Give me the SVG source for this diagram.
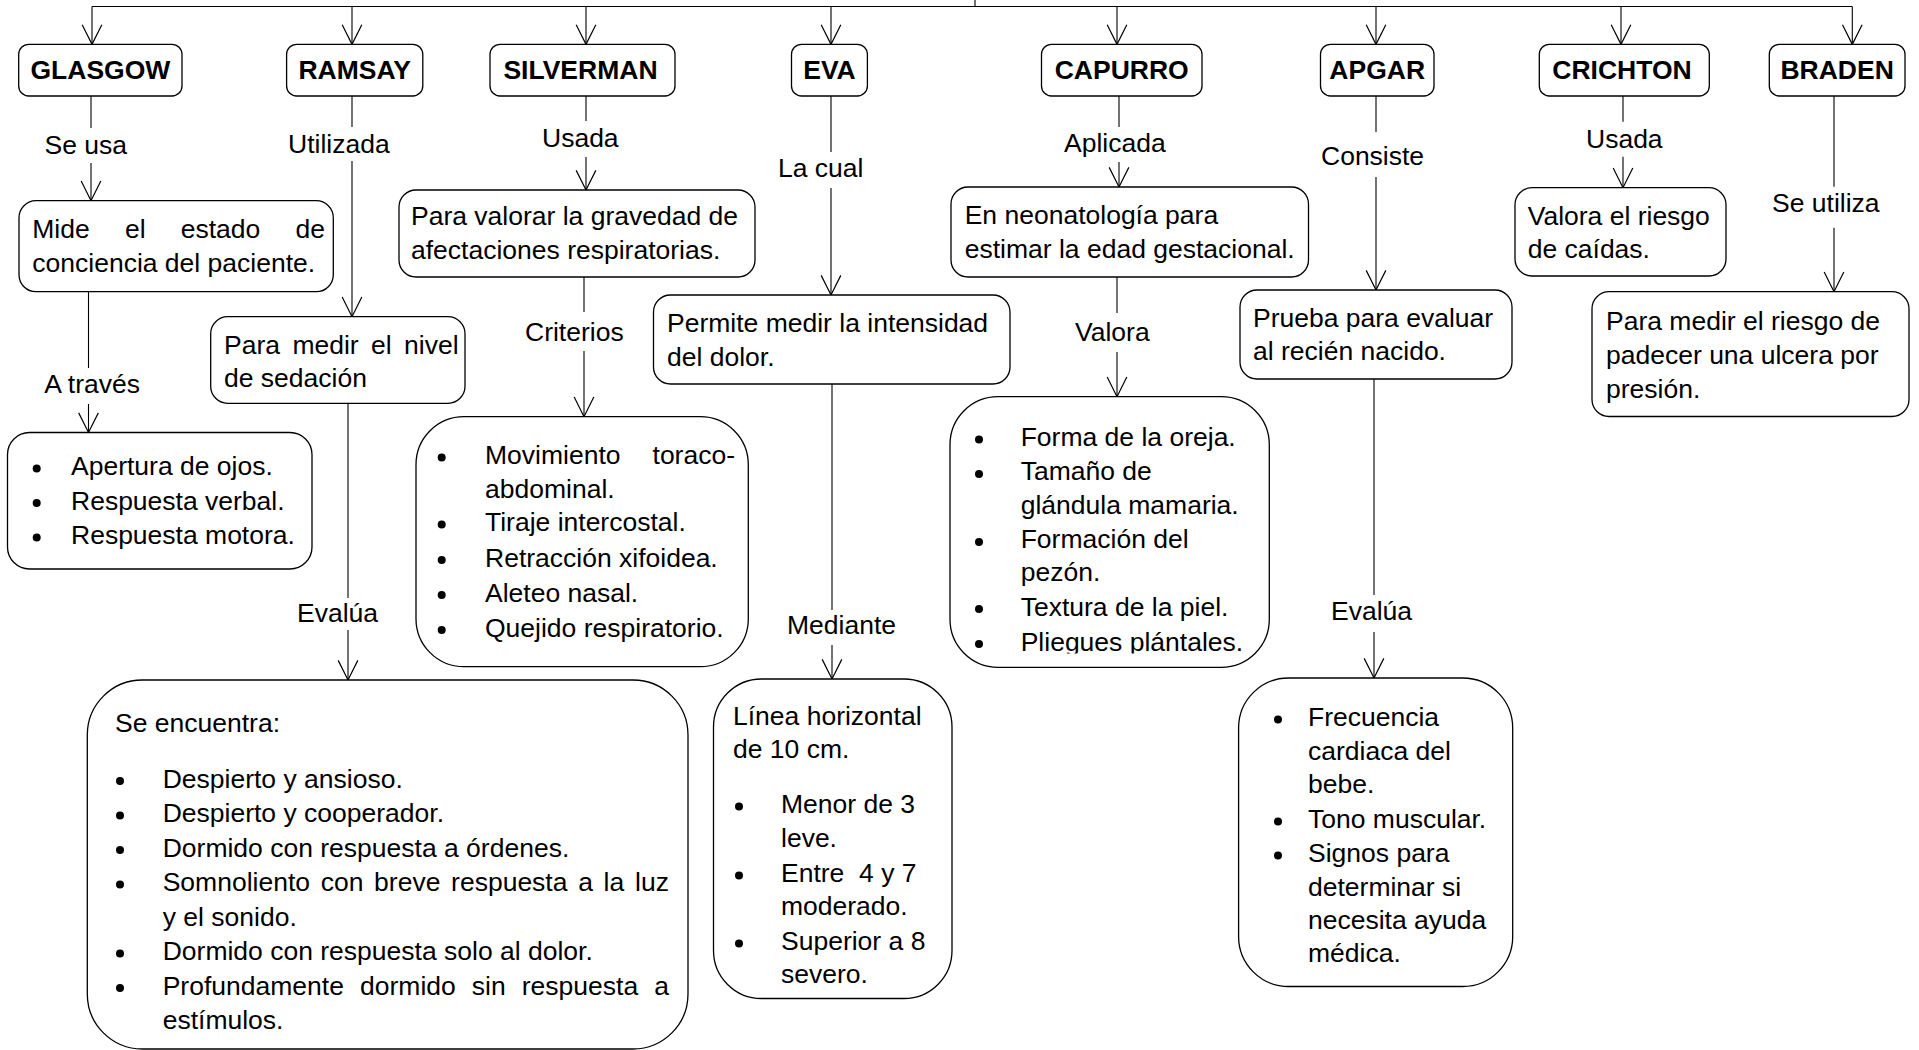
<svg xmlns="http://www.w3.org/2000/svg" width="1919" height="1050" viewBox="0 0 1919 1050">
<defs>
<style>
.b{fill:#fff;stroke:#000;stroke-width:1.3}
.t{font-family:"Liberation Sans",Arial,sans-serif;font-size:26.5px;fill:#000}
.h{font-weight:bold;text-anchor:middle}
.c{stroke:#000;stroke-width:1.1;fill:none}
.d{fill:#000}
</style>
<marker id="ah" markerUnits="userSpaceOnUse" markerWidth="24" markerHeight="24" viewBox="-1 -1 22 22" refX="19" refY="10" orient="auto" overflow="visible">
<path d="M1,1 L19,10 L1,19" fill="none" stroke="#000" stroke-width="1.1"/>
</marker>
<clipPath id="clipPl"><rect x="950" y="620" width="320" height="33.5"/></clipPath>
</defs>
<rect width="1919" height="1050" fill="#fff"/>

<g id="connectors">
<path class="c" d="M975,0 V6.5 M92,6.5 H1852.3"/>
<path class="c" marker-end="url(#ah)" d="M92,6.5 V44.3"/>
<path class="c" marker-end="url(#ah)" d="M352,6.5 V44.3"/>
<path class="c" marker-end="url(#ah)" d="M586,6.5 V44.3"/>
<path class="c" marker-end="url(#ah)" d="M831,6.5 V44.3"/>
<path class="c" marker-end="url(#ah)" d="M1117,6.5 V44.3"/>
<path class="c" marker-end="url(#ah)" d="M1376,6.5 V44.3"/>
<path class="c" marker-end="url(#ah)" d="M1621,6.5 V44.3"/>
<path class="c" marker-end="url(#ah)" d="M1852.3,6.5 V44.3"/>

<path class="c" d="M91,96 V128"/><path class="c" marker-end="url(#ah)" d="M91,163 V200.7"/>
<path class="c" d="M88.5,291.7 V368"/><path class="c" marker-end="url(#ah)" d="M88.5,404 V432.5"/>
<path class="c" d="M352,96 V127"/><path class="c" marker-end="url(#ah)" d="M352,161 V316.7"/>
<path class="c" d="M348,403.3 V598"/><path class="c" marker-end="url(#ah)" d="M348,630 V680"/>
<path class="c" d="M586,96 V121"/><path class="c" marker-end="url(#ah)" d="M586,157 V190"/>
<path class="c" d="M584,277 V312"/><path class="c" marker-end="url(#ah)" d="M584,351 V416.7"/>
<path class="c" d="M831,96 V152"/><path class="c" marker-end="url(#ah)" d="M831,188 V295"/>
<path class="c" d="M832,384 V610"/><path class="c" marker-end="url(#ah)" d="M832,645 V679"/>
<path class="c" d="M1119,96 V127"/><path class="c" marker-end="url(#ah)" d="M1119,162 V187"/>
<path class="c" d="M1117,277 V313"/><path class="c" marker-end="url(#ah)" d="M1117,352 V396.7"/>
<path class="c" d="M1376,96 V132"/><path class="c" marker-end="url(#ah)" d="M1376,177 V290"/>
<path class="c" d="M1374,379 V595"/><path class="c" marker-end="url(#ah)" d="M1374,632 V678"/>
<path class="c" d="M1623,96 V121.7"/><path class="c" marker-end="url(#ah)" d="M1623,156.7 V187.7"/>
<path class="c" d="M1834,96 V186.7"/><path class="c" marker-end="url(#ah)" d="M1834,227.7 V291.7"/>

<text class="t" x="44.6" y="154">Se usa</text>
<text class="t" x="44.3" y="393">A través</text>
<text class="t" x="288" y="153">Utilizada</text>
<text class="t" x="297" y="622">Evalúa</text>
<text class="t" x="542" y="147">Usada</text>
<text class="t" x="525" y="341">Criterios</text>
<text class="t" x="778" y="177">La cual</text>
<text class="t" x="787" y="634">Mediante</text>
<text class="t" x="1064" y="152">Aplicada</text>
<text class="t" x="1075" y="341">Valora</text>
<text class="t" x="1321" y="165">Consiste</text>
<text class="t" x="1331" y="620">Evalúa</text>
<text class="t" x="1586" y="148">Usada</text>
<text class="t" x="1772" y="212">Se utiliza</text>
</g>

<g id="glasgow"><rect class="b" x="18.7" y="44.3" width="163.3" height="51.7" rx="10"/><text class="t h" x="100.4" y="79">GLASGOW</text></g>
<g id="ramsay"><rect class="b" x="286.6" y="44.3" width="136.2" height="51.7" rx="10"/><text class="t h" x="354.7" y="79">RAMSAY</text></g>
<g id="silverman"><rect class="b" x="490" y="44.3" width="185" height="51.7" rx="10"/><text class="t h" x="580.5" y="79">SILVERMAN</text></g>
<g id="eva"><rect class="b" x="791.5" y="44.3" width="75.9" height="51.7" rx="10"/><text class="t h" x="829.5" y="79">EVA</text></g>
<g id="capurro"><rect class="b" x="1041.5" y="44.3" width="160.5" height="51.7" rx="10"/><text class="t h" x="1121.7" y="79">CAPURRO</text></g>
<g id="apgar"><rect class="b" x="1320.5" y="44.3" width="113.5" height="51.7" rx="10"/><text class="t h" x="1377.2" y="79">APGAR</text></g>
<g id="crichton"><rect class="b" x="1539.3" y="44.3" width="170" height="51.7" rx="10"/><text class="t h" x="1622" y="79">CRICHTON</text></g>
<g id="braden"><rect class="b" x="1769.3" y="44.3" width="135.7" height="51.7" rx="10"/><text class="t h" x="1837.1" y="79">BRADEN</text></g>

<g id="glasgow-def"><rect class="b" x="19" y="200.7" width="314.3" height="91" rx="17"/>
<text class="t" y="238"><tspan x="32.3">Mide</tspan><tspan x="124.9">el</tspan><tspan x="180.7">estado</tspan><tspan x="295.5">de</tspan></text>
<text class="t" x="32.3" y="272">conciencia del paciente.</text></g>

<g id="glasgow-items"><rect class="b" x="7.5" y="432.5" width="304.5" height="136.5" rx="22"/>
<circle class="d" cx="36.7" cy="468.5" r="4"/><circle class="d" cx="36.7" cy="503" r="4"/><circle class="d" cx="36.7" cy="537.5" r="4"/>
<text class="t" x="71" y="475">Apertura de ojos.</text>
<text class="t" x="71" y="509.5">Respuesta verbal.</text>
<text class="t" x="71" y="544">Respuesta motora.</text></g>

<g id="ramsay-def"><rect class="b" x="210.7" y="316.7" width="254.3" height="86.6" rx="17"/>
<text class="t" y="354"><tspan x="224">Para</tspan><tspan x="292.4">medir</tspan><tspan x="371.1">el</tspan><tspan x="404.1">nivel</tspan></text>
<text class="t" x="224" y="387">de sedación</text></g>

<g id="ramsay-items"><rect class="b" x="87.3" y="680" width="600.7" height="369" rx="55"/>
<text class="t" x="115" y="732">Se encuentra:</text>
<circle class="d" cx="120" cy="781" r="4"/><circle class="d" cx="120" cy="815.5" r="4"/><circle class="d" cx="120" cy="850" r="4"/><circle class="d" cx="120" cy="884.5" r="4"/><circle class="d" cx="120" cy="953.5" r="4"/><circle class="d" cx="120" cy="988" r="4"/>
<text class="t" x="162.7" y="787.5">Despierto y ansioso.</text>
<text class="t" x="162.7" y="822">Despierto y cooperador.</text>
<text class="t" x="162.7" y="856.5">Dormido con respuesta a órdenes.</text>
<text class="t" y="891"><tspan x="162.7">Somnoliento</tspan><tspan x="320.7">con</tspan><tspan x="374.1">breve</tspan><tspan x="451.1">respuesta</tspan><tspan x="578.2">a</tspan><tspan x="603.6">la</tspan><tspan x="635">luz</tspan></text>
<text class="t" x="162.7" y="925.5">y el sonido.</text>
<text class="t" x="162.7" y="960">Dormido con respuesta solo al dolor.</text>
<text class="t" y="994.5"><tspan x="162.7">Profundamente</tspan><tspan x="360">dormido</tspan><tspan x="471.8">sin</tspan><tspan x="521.8">respuesta</tspan><tspan x="654.3">a</tspan></text>
<text class="t" x="162.7" y="1029">estímulos.</text></g>

<g id="silverman-def"><rect class="b" x="399" y="190" width="356" height="87" rx="17"/>
<text class="t" x="411" y="225">Para valorar la gravedad de</text>
<text class="t" x="411" y="258.5">afectaciones respiratorias.</text></g>

<g id="silverman-items"><rect class="b" x="416" y="416.7" width="332.3" height="250" rx="48"/>
<circle class="d" cx="441.7" cy="457.5" r="4"/><circle class="d" cx="441.7" cy="524.5" r="4"/><circle class="d" cx="441.7" cy="560" r="4"/><circle class="d" cx="441.7" cy="595" r="4"/><circle class="d" cx="441.7" cy="630" r="4"/>
<text class="t" x="485" y="464">Movimiento</text><text class="t" x="735" y="464" text-anchor="end">toraco-</text>
<text class="t" x="485" y="498">abdominal.</text>
<text class="t" x="485" y="531">Tiraje intercostal.</text>
<text class="t" x="485" y="566.5">Retracción xifoidea.</text>
<text class="t" x="485" y="601.5">Aleteo nasal.</text>
<text class="t" x="485" y="636.5">Quejido respiratorio.</text></g>

<g id="eva-def"><rect class="b" x="653.5" y="295" width="356.5" height="89" rx="17"/>
<text class="t" x="667" y="332">Permite medir la intensidad</text>
<text class="t" x="667" y="366">del dolor.</text></g>

<g id="eva-items"><rect class="b" x="713.5" y="679" width="238.5" height="319.5" rx="48"/>
<text class="t" x="733" y="725">Línea horizontal</text>
<text class="t" x="733" y="758">de 10 cm.</text>
<circle class="d" cx="739" cy="806.5" r="4"/><circle class="d" cx="739" cy="875.5" r="4"/><circle class="d" cx="739" cy="943.5" r="4"/>
<text class="t" x="781" y="813">Menor de 3</text>
<text class="t" x="781" y="847">leve.</text>
<text class="t" x="781" y="882">Entre&#160; 4 y 7</text>
<text class="t" x="781" y="915">moderado.</text>
<text class="t" x="781" y="950">Superior a 8</text>
<text class="t" x="781" y="983">severo.</text></g>

<g id="capurro-def"><rect class="b" x="951" y="187" width="357.5" height="90" rx="17"/>
<text class="t" x="964.7" y="224">En neonatología para</text>
<text class="t" x="964.7" y="257.5">estimar la edad gestacional.</text></g>

<g id="capurro-items"><rect class="b" x="950" y="396.7" width="319.3" height="270.6" rx="48"/>
<circle class="d" cx="979" cy="439.5" r="4"/><circle class="d" cx="979" cy="474" r="4"/><circle class="d" cx="979" cy="542" r="4"/><circle class="d" cx="979" cy="609" r="4"/><circle class="d" cx="979" cy="644" r="4"/>
<text class="t" x="1020.7" y="446">Forma de la oreja.</text>
<text class="t" x="1020.7" y="480">Tamaño de</text>
<text class="t" x="1020.7" y="513.5">glándula mamaria.</text>
<text class="t" x="1020.7" y="548">Formación del</text>
<text class="t" x="1020.7" y="581">pezón.</text>
<text class="t" x="1020.7" y="615.5">Textura de la piel.</text>
<text class="t" x="1020.7" y="650.5" clip-path="url(#clipPl)">Pliegues plántales.</text></g>

<g id="apgar-def"><rect class="b" x="1240" y="290" width="272" height="89" rx="17"/>
<text class="t" x="1253" y="327">Prueba para evaluar</text>
<text class="t" x="1253" y="360">al recién nacido.</text></g>

<g id="apgar-items"><rect class="b" x="1238.6" y="678" width="274.1" height="308.5" rx="50"/>
<circle class="d" cx="1278" cy="719.5" r="4"/><circle class="d" cx="1278" cy="821.5" r="4"/><circle class="d" cx="1278" cy="855.5" r="4"/>
<text class="t" x="1308" y="726">Frecuencia</text>
<text class="t" x="1308" y="759.5">cardiaca del</text>
<text class="t" x="1308" y="793">bebe.</text>
<text class="t" x="1308" y="828">Tono muscular.</text>
<text class="t" x="1308" y="862">Signos para</text>
<text class="t" x="1308" y="895.5">determinar si</text>
<text class="t" x="1308" y="929">necesita ayuda</text>
<text class="t" x="1308" y="962">médica.</text></g>

<g id="crichton-def"><rect class="b" x="1515" y="187.7" width="211" height="88.3" rx="17"/>
<text class="t" x="1527.7" y="225">Valora el riesgo</text>
<text class="t" x="1527.7" y="258">de caídas.</text></g>

<g id="braden-def"><rect class="b" x="1592" y="291.7" width="317" height="124.8" rx="17"/>
<text class="t" x="1606" y="330">Para medir el riesgo de</text>
<text class="t" x="1606" y="364">padecer una ulcera por</text>
<text class="t" x="1606" y="398">presión.</text></g>
</svg>
